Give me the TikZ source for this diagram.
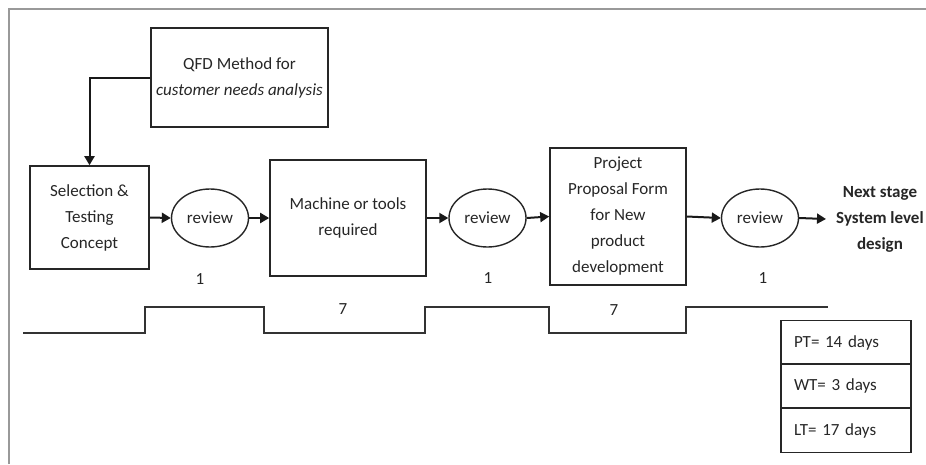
\documentclass[tikz,border=0pt]{standalone}
\usepackage{fontspec}
\setmainfont{Carlito}
\usetikzlibrary{arrows.meta,shapes.geometric}
\begin{document}
\begin{tikzpicture}[x=1pt,y=-1pt,
  every node/.style={font=\fontsize{17}{26}\selectfont, text=black!85},
  procbox/.style={draw=black!85, line width=1.6pt, rectangle, align=center, inner sep=2pt},
  revnode/.style={draw=black!85, line width=1.4pt, ellipse, minimum width=77pt, minimum height=58pt, inner sep=0pt},
  flow/.style={draw=black!90, line width=2pt, -{Triangle[length=9pt,width=10pt]}},
  timeline/.style={draw=black!80, line width=2pt},
  cell/.style={draw=black!85, line width=1.4pt, rectangle, minimum width=130pt, minimum height=44pt, text width=104pt, inner xsep=13pt, align=left},
  numlabel/.style={inner sep=0pt}
]
\useasboundingbox (0,0) rectangle (926,464);
% outer frame
\draw[black!40, line width=2pt] (9,464) -- (9,9) -- (926,9);

% boxes
\node[procbox, minimum width=177pt, minimum height=99pt] (qfd) at (239.5,77.5)
  {QFD Method for\\\textit{customer needs analysis}};
\node[procbox, minimum width=119pt, minimum height=103pt] (sel) at (89.5,217.5)
  {Selection \&\\Testing\\Concept};
\node[revnode] (rev1) at (210,218) {review};
\node[procbox, minimum width=156pt, minimum height=116pt] (mach) at (348,218)
  {Machine or tools\\required};
\node[revnode] (rev2) at (487.5,218) {review};
\node[procbox, minimum width=136pt, minimum height=137pt] (proj) at (618,216.5)
  {Project\\Proposal Form\\for New\\product\\development};
\node[revnode] (rev3) at (760,218) {review};
\node[anchor=west, align=center, inner ysep=0pt, inner xsep=10pt, font=\fontsize{17}{26}\selectfont\bfseries] (next) at (826,219)
  {Next stage\\System level\\design};

% connectors
\draw[flow] (qfd.west) -| (sel.north);
\draw[flow] (sel.east) -- (rev1.west);
\draw[flow] (rev1.east) -- (mach.west);
\draw[flow] (mach.east) -- (rev2.west);
\draw[flow] (rev2.east) -- (proj.west);
\draw[flow] (proj.east) -- (rev3.west);
\draw[flow] (rev3.east) -- (next.west);

% numbers
\node[numlabel] (n1) at (200,279) {1};
\node[numlabel] (n2) at (488,278) {1};
\node[numlabel] (n3) at (763,278) {1};
\node[numlabel] (n4) at (343,309) {7};
\node[numlabel] (n5) at (614,310) {7};

% timeline
\draw[timeline] (23,333) -- (145,333) -- (145,307) -- (264,307) -- (264,333)
  -- (425,333) -- (425,307) -- (549,307) -- (549,333) -- (686,333) -- (686,307) -- (828,307);

% summary table
\node[cell] (pt) at (846,342.5) {PT= 14 days};
\node[cell] (wt) at (846,386) {WT= 3 days};
\node[cell] (lt) at (846,430.5) {LT= 17 days};
\end{tikzpicture}
\end{document}
